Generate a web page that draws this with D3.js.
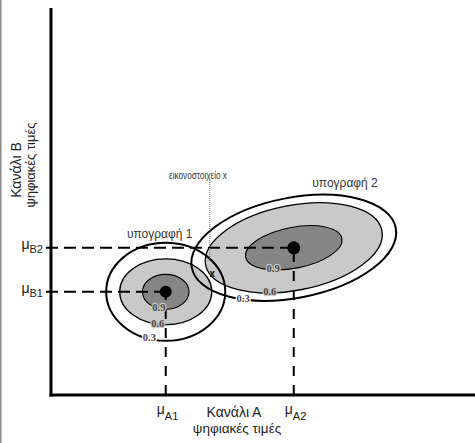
<!DOCTYPE html>
<html>
<head>
<meta charset="utf-8">
<script src="https://cdn.jsdelivr.net/npm/d3@7/dist/d3.min.js"></script>
<style>
  html, body { margin: 0; padding: 0; background: #fff; }
  svg { display: block; }
  text { font-family: "Liberation Sans", Arial, sans-serif; }
</style>
</head>
<body>
<svg id="chart" width="475" height="443"></svg>
<script>
// Two spectral signatures in a two-channel feature space (digital values 0–255)
const signatureNames = ["υπογραφή 1", "υπογραφή 2"];
const meanA = [69, 146];          // channel A means
const meanB = [68, 97];           // channel B means
const meanLabelsA = ["A1", "A2"];
const meanLabelsB = ["B1", "B2"];
const levels = ["0.3", "0.6", "0.9"];        // probability contours, outer → inner
const semiMajor1 = [35.8, 27.7, 14.0];       // signature 1, along channel A
const semiMinor1 = [32.3, 21.7, 11.5];       // signature 1, along channel B
const tilt1 = 0;
const semiMajor2 = [62.5, 54.0, 29.5];       // signature 2
const semiMinor2 = [33.0, 28.0, 13.5];
const tilt2 = 11;                            // degrees
const pixelX = [97, 80];                     // the pixel "x" (A, B)
const axisTitleA = ["Κανάλι Α", "ψηφιακές τιμές"];
const axisTitleB = ["Κανάλι Β", "ψηφιακές τιμές"];
const pixelLabel = "εικονοστοιχείο x";

const svg = d3.select("#chart");
const W = 475, H = 443;
const plotLeft = 51, plotBottom = 395, plotTop = 8;

const x = d3.scaleLinear().domain([0, 255]).range([plotLeft, W]);
const y = d3.scaleLinear().domain([0, 255]).range([plotBottom, plotTop]);

// page border at the far left
svg.append("rect").attr("x", 0).attr("y", 0).attr("width", 1.5).attr("height", H).attr("fill", "#8a8a8a");

// labelT: angle along each contour (outer → inner) where its level label sits
const signatures = [
  { a: meanA[0], b: meanB[0], major: semiMajor1, minor: semiMinor1, tilt: tilt1, labelT: [106, 100, 107] },
  { a: meanA[1], b: meanB[1], major: semiMajor2, minor: semiMinor2, tilt: tilt2, labelT: [125, 111, 120] }
];

const fills = ["none", "#c9c9c9", "#858585"];
const strokeW = [2, 1.3, 1.1];

function geom(s, i) {
  const cx = x(s.a), cy = y(s.b);
  const rx = x(s.major[i]) - x(0);
  const ry = y(0) - y(s.minor[i]);
  return { cx, cy, rx, ry, th: s.tilt };
}

const gFill = svg.append("g");
const gLines = svg.append("g");
const gStroke = svg.append("g");
const gLabels = svg.append("g");

// fills: light rings first, then dark cores
[1, 2].forEach(i => {
  signatures.forEach(s => {
    const g = geom(s, i);
    gFill.append("ellipse")
      .attr("cx", g.cx).attr("cy", g.cy).attr("rx", g.rx).attr("ry", g.ry)
      .attr("transform", `rotate(${-g.th},${g.cx},${g.cy})`)
      .attr("fill", fills[i]).attr("stroke", "none");
  });
});

// dashed guides to the axes
signatures.forEach(s => {
  gLines.append("line")
    .attr("x1", plotLeft - 5).attr("x2", x(s.a)).attr("y1", y(s.b)).attr("y2", y(s.b))
    .attr("stroke", "#000").attr("stroke-width", 2).attr("stroke-dasharray", "12,6");
  gLines.append("line")
    .attr("x1", x(s.a)).attr("x2", x(s.a)).attr("y1", plotBottom).attr("y2", y(s.b))
    .attr("stroke", "#000").attr("stroke-width", 2).attr("stroke-dasharray", "10,9");
});

// contour outlines
signatures.forEach(s => {
  levels.forEach((lv, i) => {
    const g = geom(s, i);
    gStroke.append("ellipse")
      .attr("cx", g.cx).attr("cy", g.cy).attr("rx", g.rx).attr("ry", g.ry)
      .attr("transform", `rotate(${-g.th},${g.cx},${g.cy})`)
      .attr("fill", "none").attr("stroke", "#000").attr("stroke-width", strokeW[i]);
  });
});

// contour level labels on the lower-left of each contour
signatures.forEach(s => {
  levels.forEach((lv, i) => {
    const g = geom(s, i);
    const t = s.labelT[i] * Math.PI / 180, th = g.th * Math.PI / 180;
    const X = g.rx * Math.cos(t), Y = g.ry * Math.sin(t);
    const px = g.cx + X * Math.cos(th) + Y * Math.sin(th);
    const py = g.cy - X * Math.sin(th) + Y * Math.cos(th) - 1;
    gLabels.append("text")
      .attr("x", px).attr("y", py)
      .attr("text-anchor", "middle").attr("dominant-baseline", "central")
      .style("font-family", "'Liberation Serif', serif")
      .style("font-size", "10.5px").style("font-weight", "bold")
      .attr("fill", "#444")
      .attr("stroke", i === 0 ? "#fff" : "#c9c9c9").attr("stroke-width", 2.5)
      .attr("paint-order", "stroke")
      .text(lv);
  });
});

// mean points
signatures.forEach((s, k) => {
  svg.append("circle").attr("cx", x(s.a)).attr("cy", y(s.b)).attr("r", k === 0 ? 6 : 6.5).attr("fill", "#000");
});

// signature names
svg.append("text").attr("x", x(meanA[0]) - 6).attr("y", 238).attr("text-anchor", "middle")
  .style("font-size", "12px").attr("fill", "#333").text(signatureNames[0]);
svg.append("text").attr("x", 345).attr("y", 187).attr("text-anchor", "middle")
  .style("font-size", "12px").attr("fill", "#333").text(signatureNames[1]);

// the pixel and its pointer
svg.append("line")
  .attr("x1", x(pixelX[0]) - 2.5).attr("x2", x(pixelX[0]) - 2.5)
  .attr("y1", 182).attr("y2", y(pixelX[1]) - 12)
  .attr("stroke", "#777").attr("stroke-width", 1).attr("stroke-dasharray", "1,1");
svg.append("text").attr("transform", "translate(198,179) scale(0.78,1)").attr("text-anchor", "middle")
  .style("font-size", "10.5px").attr("fill", "#333").text(pixelLabel);
svg.append("text").attr("x", x(pixelX[0])).attr("y", y(pixelX[1]))
  .attr("text-anchor", "middle").attr("dominant-baseline", "central")
  .style("font-size", "10px").style("font-weight", "bold").attr("fill", "#111").text("x");

// axes
const xAxis = d3.axisBottom(x).tickValues([]).tickSizeOuter(0);
const yAxis = d3.axisLeft(y).tickValues([]).tickSizeOuter(0);
svg.append("g").attr("transform", `translate(0,${plotBottom})`).call(xAxis)
  .select(".domain").attr("stroke", "#000").attr("stroke-width", 3)
  .attr("d", `M${plotLeft - 1.5},0H${W}`);
svg.append("g").attr("transform", `translate(${plotLeft},0)`).call(yAxis)
  .select(".domain").attr("stroke", "#000").attr("stroke-width", 3)
  .attr("d", `M0,${plotTop}V${plotBottom + 1.5}`);

// mean labels on the axes
meanA.forEach((v, k) => {
  const t = svg.append("text").attr("x", x(v) - 9).attr("y", 414)
    .style("font-size", "14px").attr("fill", "#222");
  t.append("tspan").text("μ");
  t.append("tspan").attr("dy", 6).style("font-size", "11px").text(meanLabelsA[k]);
});
meanB.forEach((v, k) => {
  const t = svg.append("text").attr("x", 43).attr("y", y(v) + 1).attr("text-anchor", "end")
    .style("font-size", "14px").attr("fill", "#222");
  t.append("tspan").text("μ");
  t.append("tspan").attr("dy", 4).style("font-size", "11px").text(meanLabelsB[k]);
});

// axis titles
svg.append("text").attr("x", 234).attr("y", 417).attr("text-anchor", "middle")
  .style("font-size", "14px").attr("fill", "#222").text(axisTitleA[0]);
svg.append("text").attr("x", 237).attr("y", 433).attr("text-anchor", "middle")
  .style("font-size", "13.5px").attr("fill", "#222").text(axisTitleA[1]);
svg.append("text").attr("transform", "translate(21,170) rotate(-90)").attr("text-anchor", "middle")
  .style("font-size", "14px").attr("fill", "#222").text(axisTitleB[0]);
svg.append("text").attr("transform", "translate(35,165) rotate(-90)").attr("text-anchor", "middle")
  .style("font-size", "13px").attr("fill", "#222").text(axisTitleB[1]);
</script>
</body>
</html>
